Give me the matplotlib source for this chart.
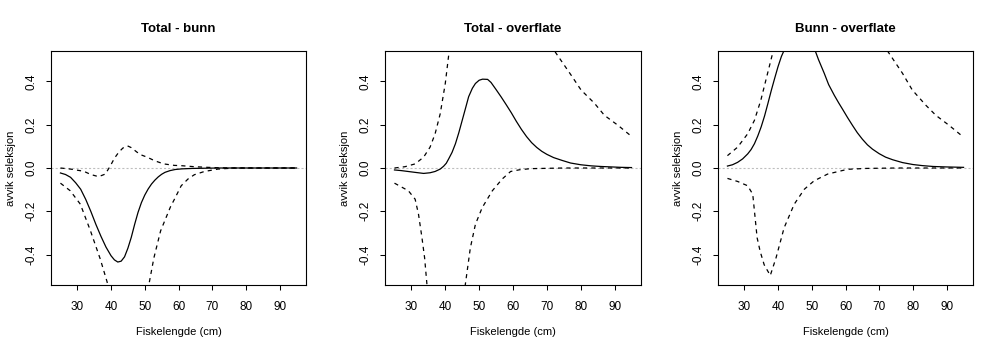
import matplotlib
matplotlib.use("Agg")
import matplotlib.pyplot as plt

plt.rcParams['font.family'] = ['Liberation Sans', 'DejaVu Sans']
plt.rcParams['lines.scale_dashes'] = False

# Avvik i seleksjon mellom fangstmetoder, estimat med konfidensbånd
# Total - bunn
tb_x = [25, 26.5, 28, 29.5, 31, 32.5, 34, 35.5, 37, 38.5, 40, 41, 42, 43, 44, 45, 46, 47, 48, 49, 50, 51, 52, 53, 54, 55, 56, 57.5, 59, 61, 64, 68, 72, 95]
tb_est = [-0.023, -0.03, -0.043, -0.068, -0.098, -0.145, -0.2, -0.26, -0.315, -0.365, -0.405, -0.424, -0.434, -0.43, -0.41, -0.37, -0.32, -0.26, -0.205, -0.16, -0.125, -0.097, -0.074, -0.056, -0.041, -0.029, -0.02, -0.012, -0.007, -0.004, -0.002, -0.001, 0.0, 0.0]
tb_hi_x = [25, 28, 31.9, 34, 36.3, 38.3, 39.8, 41, 42.3, 43.5, 44.9, 46, 47.7, 49, 50.7, 53, 55.6, 58.8, 60.6, 64.7, 68.7, 72, 76.6, 85, 95]
tb_hi = [0.0, -0.005, -0.015, -0.03, -0.04, -0.028, 0.01, 0.045, 0.073, 0.092, 0.102, 0.094, 0.073, 0.06, 0.05, 0.033, 0.019, 0.012, 0.011, 0.006, 0.003, 0.001, 0.0, 0.0, 0.0]
tb_lo_x = [25, 27.9, 30.9, 33.9, 36.8, 38.8, 40, 42, 45, 48, 50, 51.2, 52.7, 54.7, 57.6, 58.8, 60.8, 62.8, 64.7, 67.7, 71.7, 76.6, 85, 95]
tb_lo = [-0.07, -0.105, -0.167, -0.29, -0.42, -0.524, -0.6, -0.68, -0.72, -0.68, -0.6, -0.54, -0.415, -0.29, -0.18, -0.144, -0.082, -0.051, -0.031, -0.016, -0.005, 0.0, 0.0, 0.0]

# Total - overflate
to_x = [25, 27, 29, 31, 33.6, 35.5, 37, 38.5, 39.5, 40.3, 41, 42, 43, 44, 45, 46, 46.9, 48, 48.9, 50, 51, 52.5, 53.5, 55, 56.5, 58, 59.5, 61, 62.5, 64, 65.5, 67, 68.5, 70, 72, 74.5, 77, 80, 83, 86, 89, 92, 95]
to_est = [-0.009, -0.012, -0.016, -0.02, -0.025, -0.022, -0.016, -0.005, 0.008, 0.022, 0.042, 0.072, 0.112, 0.163, 0.22, 0.277, 0.329, 0.368, 0.39, 0.405, 0.41, 0.409, 0.395, 0.362, 0.328, 0.292, 0.255, 0.215, 0.178, 0.145, 0.117, 0.095, 0.077, 0.063, 0.048, 0.035, 0.023, 0.015, 0.01, 0.007, 0.005, 0.003, 0.002]
to_hi_x = [25, 28.1, 31.1, 33.6, 35.5, 37, 38.5, 40, 41.2, 42.5, 50, 60, 66, 70, 72.7, 77.1, 80.1, 84.1, 87, 91, 95]
to_hi = [0.0, 0.006, 0.019, 0.05, 0.096, 0.158, 0.25, 0.39, 0.546, 0.75, 1.0, 0.95, 0.75, 0.6, 0.53, 0.43, 0.36, 0.298, 0.243, 0.197, 0.146]
to_lo_x = [25, 29.1, 31.1, 32.1, 33.1, 33.9, 34.6, 36, 40, 44, 45.9, 47.4, 48.9, 50.9, 53.9, 56.8, 59.3, 62, 65.2, 75, 95]
to_lo = [-0.07, -0.105, -0.144, -0.214, -0.32, -0.415, -0.54, -0.75, -0.9, -0.75, -0.54, -0.369, -0.26, -0.183, -0.105, -0.051, -0.016, -0.008, -0.003, 0.0, 0.0]

# Bunn - overflate
bo_x = [25, 26.5, 28, 29.5, 31, 32, 33, 34, 35, 36, 37, 38, 39, 40, 41, 42, 43.5, 45, 47, 49, 50.9, 52, 53.7, 55, 56.7, 58, 59.1, 60.6, 62.1, 63.5, 65, 66.5, 68, 70, 71.9, 74, 76.9, 80, 82.8, 86, 89.7, 95]
bo_est = [0.009, 0.015, 0.026, 0.042, 0.065, 0.085, 0.112, 0.148, 0.19, 0.24, 0.298, 0.358, 0.414, 0.468, 0.515, 0.55, 0.6, 0.63, 0.63, 0.6, 0.546, 0.5, 0.437, 0.385, 0.335, 0.3, 0.272, 0.233, 0.196, 0.163, 0.133, 0.107, 0.087, 0.066, 0.05, 0.038, 0.025, 0.016, 0.011, 0.007, 0.005, 0.003]
bo_hi_x = [25, 28, 31, 33, 34.9, 36.9, 38.4, 38.9, 40, 50, 60, 68, 72.2, 76.9, 79.8, 83.8, 86.8, 90.7, 94.7]
bo_hi = [0.057, 0.096, 0.158, 0.22, 0.313, 0.437, 0.53, 0.546, 0.7, 1.0, 0.95, 0.65, 0.546, 0.437, 0.36, 0.29, 0.243, 0.197, 0.146]
bo_lo_x = [25, 28, 31, 32.5, 33.2, 33.8, 34.7, 35.9, 37.7, 39.4, 41.8, 44.8, 47.8, 50.7, 54.7, 60.6, 66, 75, 95]
bo_lo = [-0.048, -0.062, -0.082, -0.121, -0.229, -0.322, -0.385, -0.447, -0.496, -0.415, -0.276, -0.167, -0.098, -0.059, -0.028, -0.006, -0.002, 0.0, 0.0]

panels = [
    ('Total - bunn', tb_x, tb_est, tb_hi_x, tb_hi, tb_lo_x, tb_lo),
    ('Total - overflate', to_x, to_est, to_hi_x, to_hi, to_lo_x, to_lo),
    ('Bunn - overflate', bo_x, bo_est, bo_hi_x, bo_hi, bo_lo_x, bo_lo),
]

fig = plt.figure(figsize=(10, 3.5), dpi=100)
lefts = [51, 385, 718]
widths = [255, 256, 255]

for (title, x, est, hx, hi, lx, lo), l, w in zip(panels, lefts, widths):
    ax = fig.add_axes([l / 1000, 65 / 350, w / 1000, 234 / 350])
    ax.axhline(0, color='#bebebe', lw=0.8, ls=(0, (1.5, 1.5)), zorder=1)
    ax.plot(x, est, color='black', lw=0.9)
    ax.plot(hx, hi, color='black', lw=0.9, ls=(0, (3, 3)))
    ax.plot(lx, lo, color='black', lw=0.9, ls=(0, (3, 3)))
    ax.set_xlim(22.2, 97.8)
    ax.set_ylim(-0.54, 0.54)
    ax.set_xticks([30, 40, 50, 60, 70, 80, 90])
    ax.set_yticks([-0.4, -0.2, 0.0, 0.2, 0.4])
    ax.set_yticklabels(['-0.4', '-0.2', '0.0', '0.2', '0.4'], rotation=90, va='center')
    ax.tick_params(length=3.6, width=0.75, labelsize=8.5)
    ax.tick_params(axis='x', pad=8)
    ax.tick_params(axis='y', pad=6)
    for s in ax.spines.values():
        s.set_linewidth(0.8)
    ax.set_title(title, fontsize=9.5, fontweight='bold', pad=13.5)
    ax.set_xlabel('Fiskelengde (cm)', fontsize=8, labelpad=10)
    ax.set_ylabel('avvik seleksjon', fontsize=8, labelpad=7)

plt.savefig('out.png', dpi=100)
